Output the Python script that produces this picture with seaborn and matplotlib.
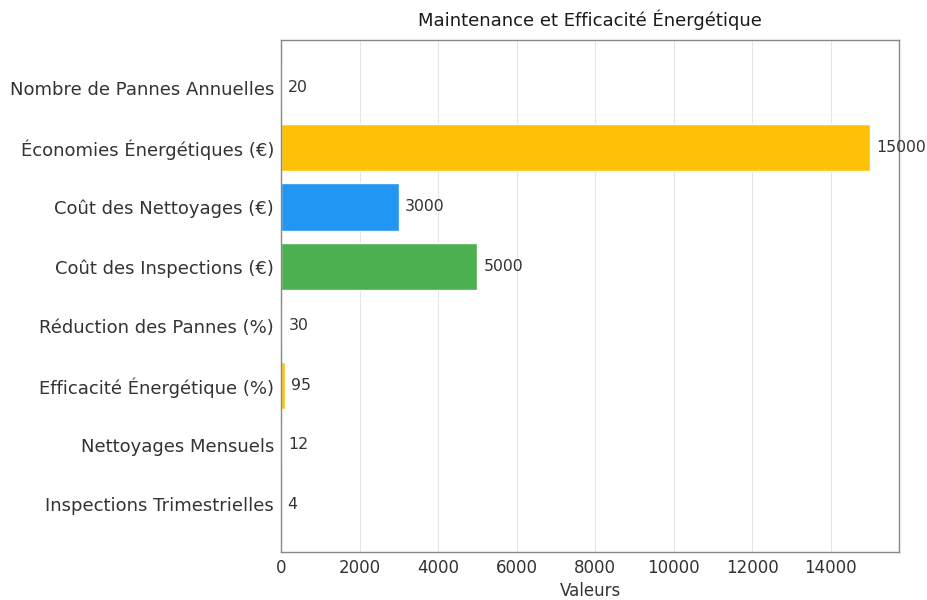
import pandas as pd
import matplotlib.pyplot as plt
import seaborn as sns

# Data (top to bottom order in the picture)
categories = [
    "Nombre de Pannes Annuelles",
    "Économies Énergétiques (€)",
    "Coût des Nettoyages (€)",
    "Coût des Inspections (€)",
    "Réduction des Pannes (%)",
    "Efficacité Énergétique (%)",
    "Nettoyages Mensuels",
    "Inspections Trimestrielles",
]
values = [20, 15000, 3000, 5000, 30, 95, 12, 4]
bar_colors = ["#F44336", "#FFC107", "#2196F3", "#4CAF50",
              "#F44336", "#FFC107", "#2196F3", "#4CAF50"]

data = pd.DataFrame({"Indicateur": categories, "Valeur": values})

sns.set_style("whitegrid")
plt.rcParams["font.family"] = ["DejaVu Sans"]

fig, ax = plt.subplots(figsize=(9.28, 6), dpi=100)
fig.subplots_adjust(left=0.303, right=0.969, top=0.933, bottom=0.08)

sns.barplot(x="Valeur", y="Indicateur", data=data, hue="Indicateur",
            palette=bar_colors, legend=False, width=0.8, saturation=1, ax=ax)

for i, v in enumerate(values):
    ax.annotate(str(v), (v, i), xytext=(4.5, 0), textcoords="offset points",
                va="center", ha="left", fontsize=11.3, color="#333333")

ax.set_xlim(0, 15750)
ax.set_ylim(7.8, -0.8)
ax.set_title("Maintenance et Efficacité Énergétique", fontsize=13, color="#1a1a1a", pad=10)
ax.set_xlabel("Valeurs", fontsize=12, color="#333333", labelpad=4)
ax.set_ylabel("")
ax.tick_params(axis="x", labelsize=12, colors="#333333", length=3, pad=2)
ax.tick_params(axis="y", labelsize=13, colors="#333333", length=3, pad=2)
ax.tick_params(axis="both", color="#888888")
ax.grid(axis="y", visible=False)
ax.grid(axis="x", color="#e6e6e6", linewidth=0.8)
for s in ax.spines.values():
    s.set_color("#888888")
    s.set_linewidth(1)

plt.savefig("out.png", dpi=100)
